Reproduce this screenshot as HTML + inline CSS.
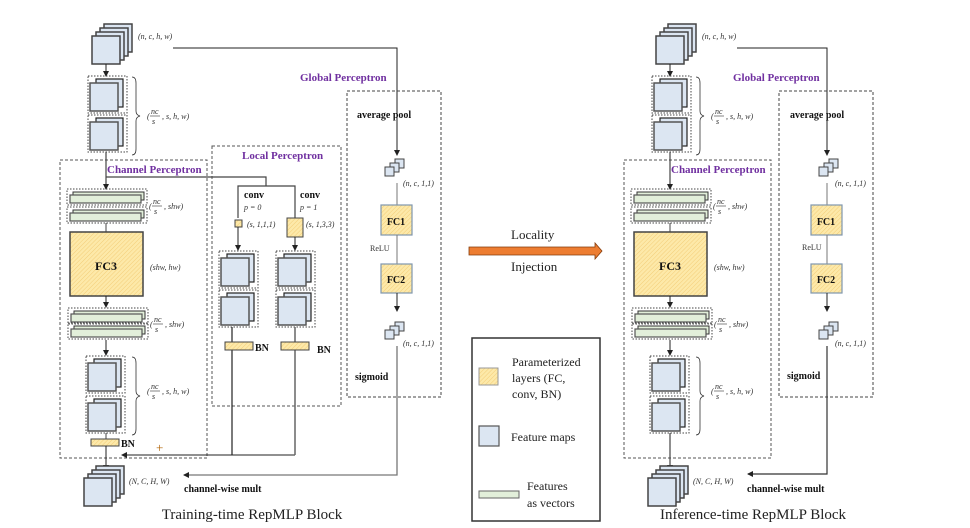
<!DOCTYPE html>
<html><head><meta charset="utf-8"><style>
html,body{margin:0;padding:0;background:#fff}
svg{display:block}
text{font-family:"Liberation Serif",serif}
.it{font-style:italic;font-size:8px;fill:#333}
.b{font-weight:bold;font-size:10px;fill:#111}
.pp{font-weight:bold;font-size:11px;fill:#7030a0}
</style></head><body>
<svg width="970" height="528" viewBox="0 0 970 528" xmlns="http://www.w3.org/2000/svg">
<defs>
<pattern id="h" width="3" height="3" patternUnits="userSpaceOnUse" patternTransform="rotate(45)">
<rect width="3" height="3" fill="#fde9a9"/><line x1="0" y1="0" x2="0" y2="3" stroke="#f3cd78" stroke-width="1"/></pattern>
<marker id="a" markerWidth="6" markerHeight="6" refX="5" refY="3" orient="auto" markerUnits="userSpaceOnUse"><path d="M0,0 L6,3 L0,6z" fill="#222"/></marker>
<g id="sq"><rect width="28" height="28" fill="#dce6f2" stroke="#444" stroke-width="1.5"/></g>
<g id="fg"><rect x="0" y="0" width="39" height="37" fill="none" stroke="#444" stroke-dasharray="1.5,1.5"/>
<rect x="8" y="3" width="27" height="28" fill="#dce6f2" stroke="#222" stroke-width="1.2"/>
<rect x="2" y="7" width="28" height="28" fill="#dce6f2" stroke="#555" stroke-width="1.5"/></g>
<g id="vg"><rect x="0" y="0" width="80" height="16" fill="none" stroke="#444" stroke-dasharray="1.5,1.5"/>
<rect x="6" y="3" width="71" height="8" fill="#e2efda" stroke="#333"/>
<rect x="3" y="6" width="71" height="8" fill="#e2efda" stroke="#555" stroke-width="1.2"/></g>
<g id="st"><use href="#sq" x="12" y="-12"/><use href="#sq" x="8" y="-8"/><use href="#sq" x="4" y="-4"/><use href="#sq"/></g>
<g id="mi"><rect x="10" y="-8" width="9" height="9" fill="#dce6f2" stroke="#444"/><rect x="5" y="-4" width="9" height="9" fill="#dce6f2" stroke="#444"/><rect x="0" y="0" width="9" height="9" fill="#dce6f2" stroke="#444"/></g>
<g id="frac"><text x="4" y="-3" class="it">nc</text><line x1="3" y1="-1" x2="13" y2="-1" stroke="#333" stroke-width="0.6"/><text x="5" y="7" class="it">s</text><text x="0" y="2" class="it">(</text></g>
</defs>

<!-- ========== TRAINING ========== -->
<g id="chan">
<use href="#st" x="92" y="36"/>
<text x="138" y="39" class="it">(n, c, h, w)</text>
<line x1="106" y1="64" x2="106" y2="76" stroke="#222" marker-end="url(#a)"/>
<use href="#fg" x="88" y="76"/><use href="#fg" x="88" y="115"/>
<path d="M132,77 q4,0 4,6 v28 q0,4 4,5 q-4,1 -4,5 v28 q0,6 -4,6" fill="none" stroke="#333" stroke-width="0.8"/>
<use href="#frac" x="147" y="117"/><text x="162" y="119" class="it">, s, h, w)</text>
<rect x="60" y="160" width="147" height="298" fill="none" stroke="#555" stroke-dasharray="3,2" stroke-width="1"/>
<line x1="106" y1="152" x2="106" y2="189" stroke="#444" stroke-width="1.2" marker-end="url(#a)"/>
<text x="107" y="173" class="pp">Channel Perceptron</text>
<use href="#vg" x="67" y="189"/><use href="#vg" x="67" y="207"/>
<use href="#frac" x="149" y="207"/><text x="164" y="209" class="it">, shw)</text>
<line x1="106" y1="223" x2="106" y2="232" stroke="#444"/>
<rect x="70" y="232" width="73" height="64" fill="url(#h)" stroke="#444" stroke-width="1.5"/>
<text x="106" y="270" text-anchor="middle" font-weight="bold" font-size="12" fill="#111">FC3</text>
<text x="150" y="270" class="it">(shw, hw)</text>
<line x1="106" y1="296" x2="106" y2="307" stroke="#222" marker-end="url(#a)"/>
<use href="#vg" x="68" y="308"/><use href="#vg" x="68" y="323"/>
<use href="#frac" x="150" y="325"/><text x="165" y="327" class="it">, shw)</text>
<line x1="106" y1="340" x2="106" y2="355" stroke="#222" marker-end="url(#a)"/>
<use href="#fg" x="86" y="356"/><use href="#fg" x="86" y="396"/>
<path d="M132,357 q4,0 4,6 v28 q0,4 4,5 q-4,1 -4,5 v28 q0,6 -4,6" fill="none" stroke="#333" stroke-width="0.8"/>
<use href="#frac" x="147" y="392"/><text x="162" y="394" class="it">, s, h, w)</text>
</g>
<line x1="106" y1="433" x2="106" y2="439" stroke="#444"/>
<rect x="91" y="439" width="28" height="7" fill="url(#h)" stroke="#444"/>
<text x="121" y="447" class="b" font-size="11">BN</text>
<text x="156" y="452" font-size="13" fill="#b06000">+</text>
<line x1="106" y1="446" x2="106" y2="470" stroke="#222" marker-end="url(#a)"/>
<use href="#st" x="84" y="478"/>
<text x="129" y="484" class="it">(N, C, H, W)</text>
<polyline points="295,455 122,455" fill="none" stroke="#222" marker-end="url(#a)"/>
<!-- local -->
<rect x="212" y="146" width="129" height="260" fill="none" stroke="#555" stroke-dasharray="3,2"/>
<text x="242" y="159" class="pp">Local Perceptron</text>
<polyline points="106,177 266,177 266,186" fill="none" stroke="#444" stroke-width="1.2"/>
<polyline points="238,218 238,186 295,186 295,218" fill="none" stroke="#444" stroke-width="1.2"/>
<text x="244" y="198" class="b">conv</text><text x="244" y="210" class="it" font-size="9">p = 0</text>
<text x="300" y="198" class="b">conv</text><text x="300" y="210" class="it" font-size="9">p = 1</text>
<rect x="235" y="220" width="7" height="7" fill="url(#h)" stroke="#444"/>
<text x="247" y="227" class="it">(s, 1,1,1)</text>
<rect x="287" y="218" width="16" height="19" fill="url(#h)" stroke="#444"/>
<text x="306" y="227" class="it">(s, 1,3,3)</text>
<line x1="238" y1="227" x2="238" y2="250" stroke="#222" marker-end="url(#a)"/>
<line x1="295" y1="237" x2="295" y2="250" stroke="#222" marker-end="url(#a)"/>
<use href="#fg" x="219" y="251"/><use href="#fg" x="219" y="290"/>
<use href="#fg" x="276" y="251"/><use href="#fg" x="276" y="290"/>
<line x1="232" y1="327" x2="232" y2="455" stroke="#222" stroke-width="1.2"/>
<line x1="295" y1="327" x2="295" y2="455" stroke="#666" stroke-width="1.5"/>
<rect x="225" y="342" width="28" height="8" fill="url(#h)" stroke="#444"/>
<text x="255" y="351" class="b" font-size="11">BN</text>
<rect x="281" y="342" width="28" height="8" fill="url(#h)" stroke="#444"/>
<text x="317" y="353" class="b" font-size="11">BN</text>
<!-- global -->
<g id="glob">
<polyline points="173,48 397,48 397,155" fill="none" stroke="#222" marker-end="url(#a)"/>
<rect x="347" y="91" width="94" height="306" fill="none" stroke="#444" stroke-dasharray="3,2"/>
<text x="300" y="81" class="pp">Global Perceptron</text>
<text x="357" y="118" class="b">average pool</text>
<use href="#mi" x="385" y="167"/>
<text x="403" y="186" class="it" font-size="7">(n, c, 1,1)</text>
<line x1="397" y1="183" x2="397" y2="205" stroke="#777"/>
<rect x="381" y="205" width="31" height="30" fill="url(#h)" stroke="#7f96ad" stroke-width="1.2"/>
<text x="396" y="225" text-anchor="middle" class="b" font-size="12">FC1</text>
<text x="370" y="251" font-size="8" fill="#333">ReLU</text>
<line x1="397" y1="235" x2="397" y2="264" stroke="#777"/>
<rect x="381" y="264" width="31" height="29" fill="url(#h)" stroke="#7f96ad" stroke-width="1.2"/>
<text x="396" y="283" text-anchor="middle" class="b" font-size="12">FC2</text>
<line x1="397" y1="293" x2="397" y2="311" stroke="#222" marker-end="url(#a)"/>
<use href="#mi" x="385" y="330"/>
<text x="403" y="346" class="it" font-size="7">(n, c, 1,1)</text>
<text x="355" y="380" class="b">sigmoid</text>
<polyline points="397,346 397,475 184,475" fill="none" stroke="#777" stroke-width="1.3" marker-end="url(#a)"/>
<text x="184" y="492" class="b">channel-wise mult</text>
</g>
<text x="252" y="519" text-anchor="middle" font-size="15" fill="#222">Training-time RepMLP Block</text>

<!-- arrow -->
<polygon points="469,247 595,247 595,243 602,251 595,259 595,255 469,255" fill="#ed7d31" stroke="#843c0c" stroke-width="0.8"/>
<text x="511" y="239" font-size="13" fill="#222">Locality</text>
<text x="511" y="271" font-size="13" fill="#222">Injection</text>
<!-- legend -->
<rect x="472" y="338" width="128" height="183" fill="none" stroke="#333" stroke-width="1.5"/>
<rect x="479" y="368" width="19" height="17" fill="url(#h)" stroke="#999"/>
<text x="512" y="366" font-size="12" fill="#222">Parameterized</text>
<text x="512" y="382" font-size="12" fill="#222">layers (FC,</text>
<text x="512" y="398" font-size="12" fill="#222">conv, BN)</text>
<rect x="479" y="426" width="20" height="20" fill="#dce6f2" stroke="#555" stroke-width="1.2"/>
<text x="511" y="441" font-size="12" fill="#222">Feature maps</text>
<rect x="479" y="491" width="40" height="7" fill="#e2efda" stroke="#666"/>
<text x="527" y="490" font-size="12" fill="#222">Features</text>
<text x="527" y="507" font-size="12" fill="#222">as vectors</text>

<!-- ========== INFERENCE ========== -->
<use href="#chan" x="564" y="0"/>
<line x1="670" y1="433" x2="670" y2="470" stroke="#444" stroke-width="1.2" marker-end="url(#a)"/>
<use href="#st" x="648" y="478"/>
<text x="693" y="484" class="it">(N, C, H, W)</text>
<g transform="translate(430,0)">
<polyline points="307,48 397,48 397,155" fill="none" stroke="#222" marker-end="url(#a)"/>
<rect x="349" y="91" width="94" height="306" fill="none" stroke="#444" stroke-dasharray="3,2"/>
<text x="303" y="81" class="pp">Global Perceptron</text>
<text x="360" y="118" class="b">average pool</text>
<use href="#mi" x="389" y="167"/>
<text x="405" y="186" class="it" font-size="7">(n, c, 1,1)</text>
<line x1="397" y1="183" x2="397" y2="205" stroke="#777"/>
<rect x="381" y="205" width="31" height="30" fill="url(#h)" stroke="#7f96ad" stroke-width="1.2"/>
<text x="396" y="225" text-anchor="middle" class="b" font-size="12">FC1</text>
<text x="372" y="250" font-size="8" fill="#333">ReLU</text>
<line x1="397" y1="235" x2="397" y2="264" stroke="#777"/>
<rect x="381" y="264" width="31" height="29" fill="url(#h)" stroke="#7f96ad" stroke-width="1.2"/>
<text x="396" y="283" text-anchor="middle" class="b" font-size="12">FC2</text>
<line x1="397" y1="293" x2="397" y2="311" stroke="#222" marker-end="url(#a)"/>
<use href="#mi" x="389" y="330"/>
<text x="405" y="346" class="it" font-size="7">(n, c, 1,1)</text>
<text x="357" y="379" class="b">sigmoid</text>
<polyline points="397,346 397,474 318,474" fill="none" stroke="#333" stroke-width="1.2" marker-end="url(#a)"/>
<text x="317" y="492" class="b">channel-wise mult</text>
</g>
<text x="753" y="519" text-anchor="middle" font-size="15" fill="#222">Inference-time RepMLP Block</text>
</svg>
</body></html>
